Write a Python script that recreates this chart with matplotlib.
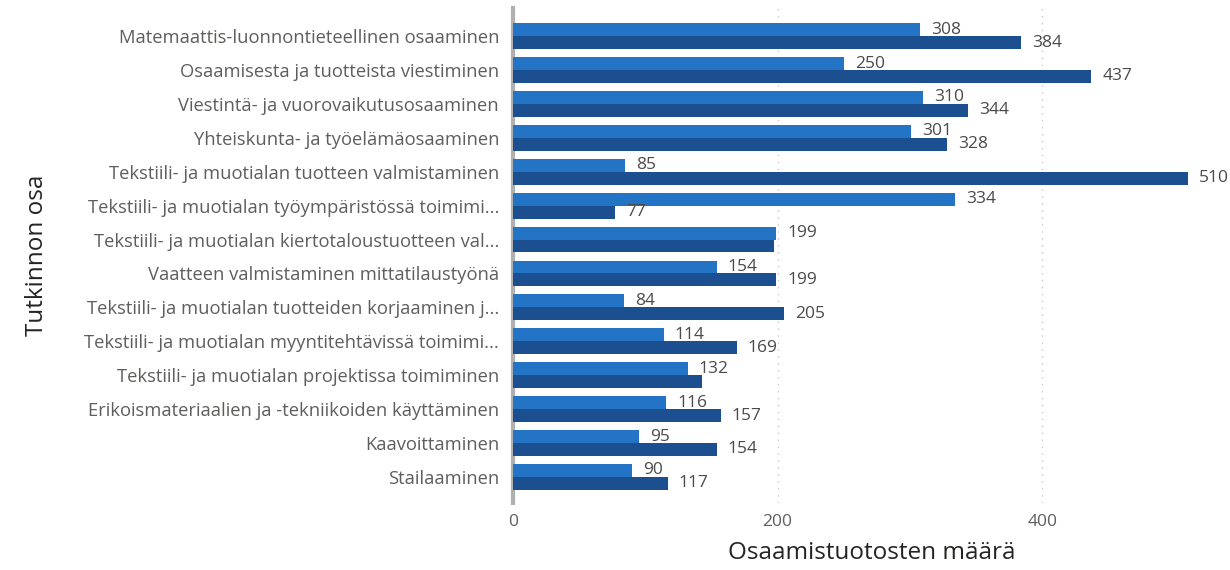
import matplotlib.pyplot as plt
import numpy as np

plt.rcParams["font.family"] = ["Open Sans", "DejaVu Sans"]

categories = [
    "Matemaattis-luonnontieteellinen osaaminen",
    "Osaamisesta ja tuotteista viestiminen",
    "Viestintä- ja vuorovaikutusosaaminen",
    "Yhteiskunta- ja työelämäosaaminen",
    "Tekstiili- ja muotialan tuotteen valmistaminen",
    "Tekstiili- ja muotialan työympäristössä toimimi...",
    "Tekstiili- ja muotialan kiertotaloustuotteen val...",
    "Vaatteen valmistaminen mittatilaustyönä",
    "Tekstiili- ja muotialan tuotteiden korjaaminen j...",
    "Tekstiili- ja muotialan myyntitehtävissä toimimi...",
    "Tekstiili- ja muotialan projektissa toimiminen",
    "Erikoismateriaalien ja -tekniikoiden käyttäminen",
    "Kaavoittaminen",
    "Stailaaminen",
]
series_a = [308, 250, 310, 301, 85, 334, 199, 154, 84, 114, 132, 116, 95, 90]
series_b = [384, 437, 344, 328, 510, 77, 197, 199, 205, 169, 143, 157, 154, 117]
xticks = [0, 200, 400]

LIGHT = "#2474c6"
DARK = "#1c4f8f"
TEXT = "#605e5c"

fig = plt.figure(figsize=(12.3, 5.7), dpi=100)
ax = fig.add_axes([0.417, 0.1175, 0.583, 0.8685])

y = np.arange(len(categories))
h = 0.38
ax.barh(y - h / 2, series_a, height=h, color=LIGHT, zorder=3)
ax.barh(y + h / 2, series_b, height=h, color=DARK, zorder=3)

for i, (a, b) in enumerate(zip(series_a, series_b)):
    ax.annotate(str(a), (a, i - h / 2), xytext=(8, 0), textcoords="offset points",
                va="center", ha="left", fontsize=12.5, color="#4a4a4a", zorder=4)
    # overlapping labels are hidden, like in the original report
    if abs(a - b) >= 20:
        ax.annotate(str(b), (b, i + h / 2), xytext=(8, 0), textcoords="offset points",
                    va="center", ha="left", fontsize=12.5, color="#4a4a4a", zorder=4)

ax.set_xlim(0, 542)
ax.set_ylim(len(categories) - 0.23, -0.83)
ax.set_yticks(y)
ax.set_yticklabels(categories, fontsize=13.2, color=TEXT)
ax.set_xticks(xticks)
ax.set_xticklabels([str(t) for t in xticks], fontsize=12.5, color=TEXT)
ax.tick_params(length=0, pad=10)
ax.tick_params(axis="x", pad=8)

for s in ["top", "right", "bottom"]:
    ax.spines[s].set_visible(False)
ax.spines["left"].set_color("#b0b0b0")
ax.spines["left"].set_linewidth(3)

for t in xticks[1:]:
    ax.axvline(t, color="#c8c8c8", linestyle=(0, (1, 4)), linewidth=1, zorder=1)

ax.set_xlabel("Osaamistuotosten määrä", fontsize=17.5, color="#252423", labelpad=8)
ax.set_ylabel("Tutkinnon osa", fontsize=17.5, color="#252423")
ax.yaxis.set_label_coords(-0.647, 0.5)

fig.savefig("out.png", dpi=100)
